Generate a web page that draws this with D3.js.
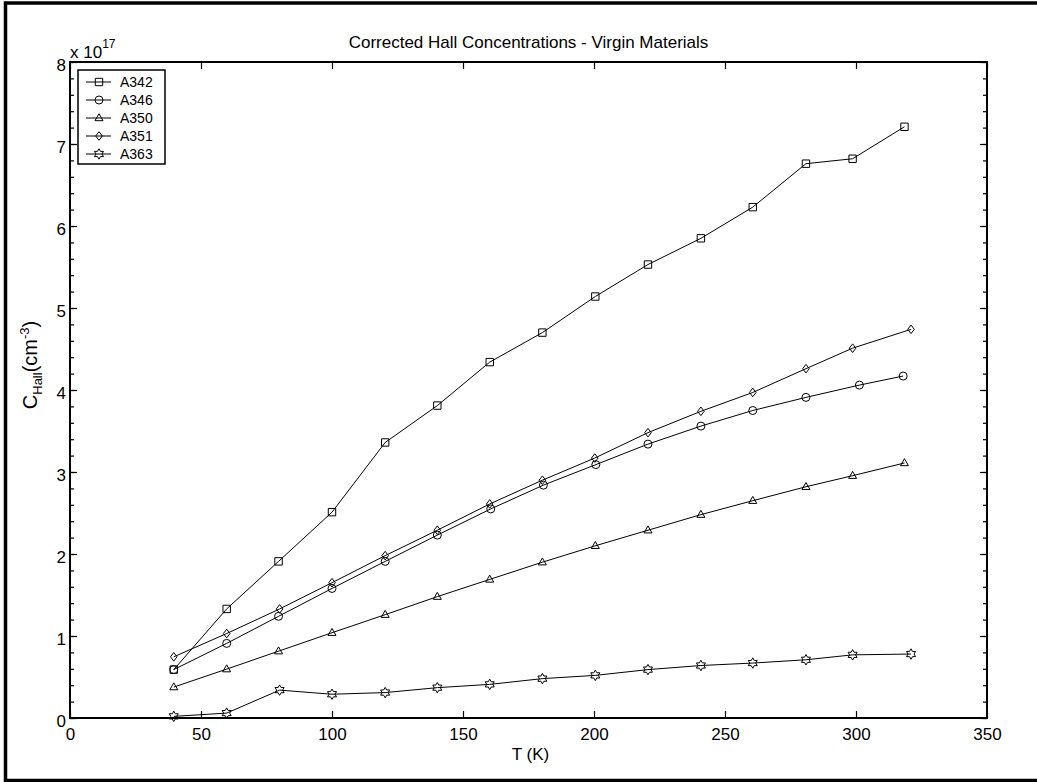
<!doctype html>
<html>
<head>
<meta charset="utf-8">
<style>
  body { margin: 0; background: #fff; }
  svg text { font-family: Arial, "Liberation Sans", sans-serif; fill: #000; }
  .axis path, .axis line { stroke: #000; }
</style>
<script src="https://d3js.org/d3.v7.min.js"></script>
</head>
<body>
<svg width="1037" height="782"></svg>
<script>
// values are in units of 1e17 cm^-3
var seriesNames = ["A342", "A346", "A350", "A351", "A363"];

var tempA342 = [39.6, 59.8, 79.6, 100, 120.3, 140.2, 160.2, 180.3, 200.5, 220.6, 240.8, 260.6, 280.9, 298.7, 318.5];
var valA342  = [0.59, 1.33, 1.91, 2.51, 3.36, 3.81, 4.34, 4.70, 5.14, 5.53, 5.85, 6.23, 6.76, 6.82, 7.21];

var tempA346 = [39.6, 59.8, 79.6, 100, 120.3, 140.2, 160.6, 180.7, 200.7, 220.6, 240.8, 260.6, 280.9, 301.3, 318];
var valA346  = [0.59, 0.91, 1.24, 1.58, 1.91, 2.23, 2.55, 2.84, 3.09, 3.34, 3.56, 3.75, 3.91, 4.06, 4.17];

var tempA350 = [39.6, 59.8, 79.6, 100, 120.3, 140.2, 160.2, 180.3, 200.5, 220.6, 240.8, 260.6, 280.9, 298.7, 318.5];
var valA350  = [0.377, 0.596, 0.815, 1.04, 1.26, 1.48, 1.69, 1.90, 2.10, 2.29, 2.48, 2.65, 2.82, 2.955, 3.11];

var tempA351 = [39.6, 59.8, 80, 100, 120.3, 140.2, 160.2, 180.3, 200.3, 220.6, 240.8, 260.6, 280.9, 298.7, 321];
var valA351  = [0.746, 1.03, 1.33, 1.65, 1.98, 2.29, 2.61, 2.90, 3.17, 3.48, 3.74, 3.97, 4.26, 4.51, 4.74];

var tempA363 = [39.6, 59.8, 80, 100, 120.3, 140.2, 160.2, 180.3, 200.5, 220.6, 240.8, 260.6, 280.9, 298.7, 321];
var valA363  = [0.02, 0.06, 0.34, 0.29, 0.31, 0.37, 0.41, 0.48, 0.52, 0.59, 0.64, 0.67, 0.71, 0.77, 0.78];

var xTicks = [0, 50, 100, 150, 200, 250, 300, 350];
var yTicks = [0, 1, 2, 3, 4, 5, 6, 7, 8];
var yMinorTicks = d3.range(0, 8.01, 0.2);

var series = [
  {name: seriesNames[0], t: tempA342, v: valA342, marker: "square"},
  {name: seriesNames[1], t: tempA346, v: valA346, marker: "circle"},
  {name: seriesNames[2], t: tempA350, v: valA350, marker: "triangle"},
  {name: seriesNames[3], t: tempA351, v: valA351, marker: "diamond"},
  {name: seriesNames[4], t: tempA363, v: valA363, marker: "hexagram"}
];

var markerPath = {
  square: "M-3.7,-3.7h7.4v7.4h-7.4Z",
  circle: "M4,0A4,4 0 1,1 -4,0A4,4 0 1,1 4,0Z",
  triangle: "M0,-4.3L4,2.7L-4,2.7Z",
  diamond: "M0,-4.3L3.3,0L0,4.3L-3.3,0Z",
  hexagram: (function() {
    var r = 5.2, p = [];
    for (var i = 0; i < 12; i++) {
      var a = (i * 30 - 90) * Math.PI / 180, rr = i % 2 == 0 ? r : r / Math.sqrt(3);
      p.push([rr * Math.cos(a), rr * Math.sin(a)]);
    }
    return "M" + p.map(function(d) { return d[0].toFixed(2) + "," + d[1].toFixed(2); }).join("L") + "Z";
  })()
};

var svg = d3.select("svg");
var plotL = 70, plotR = 987, plotT = 62, plotB = 718;

var x = d3.scaleLinear().domain([0, 350]).range([plotL, plotR]);
var y = d3.scaleLinear().domain([0, 8]).range([plotB, plotT]);

// outer figure frame
svg.append("rect")
  .attr("x", 5.5).attr("y", 3).attr("width", 1100).attr("height", 777.5)
  .attr("fill", "none").attr("stroke", "#000").attr("stroke-width", 3.5);

// axes
var gx = svg.append("g").attr("class", "axis")
  .attr("transform", "translate(0," + plotB + ")")
  .call(d3.axisBottom(x).tickValues(xTicks).tickSizeInner(-7).tickSizeOuter(0).tickPadding(10));
gx.selectAll("text").style("font-size", "17px");

svg.append("g").attr("class", "axis")
  .attr("transform", "translate(0," + plotT + ")")
  .call(d3.axisTop(x).tickValues(xTicks).tickSizeInner(-7).tickSizeOuter(0).tickFormat(""));

svg.append("g").attr("class", "axis")
  .attr("transform", "translate(" + plotL + ",0)")
  .call(d3.axisLeft(y).tickValues(yMinorTicks).tickSizeInner(-4).tickSizeOuter(0).tickFormat(""));
var gy = svg.append("g").attr("class", "axis")
  .attr("transform", "translate(" + plotL + ",0)")
  .call(d3.axisLeft(y).tickValues(yTicks).tickSizeInner(-7).tickSizeOuter(0).tickPadding(4));
gy.selectAll("text").style("font-size", "17px").attr("dy", "0.52em");

svg.append("g").attr("class", "axis")
  .attr("transform", "translate(" + plotR + ",0)")
  .call(d3.axisRight(y).tickValues(yMinorTicks).tickSizeInner(-4).tickSizeOuter(0).tickFormat(""));
svg.append("g").attr("class", "axis")
  .attr("transform", "translate(" + plotR + ",0)")
  .call(d3.axisRight(y).tickValues(yTicks).tickSizeInner(-7).tickSizeOuter(0).tickFormat(""));

svg.selectAll(".axis .domain").remove();
svg.selectAll(".axis line").attr("stroke-width", 1.2);

// plot box
svg.append("rect")
  .attr("x", plotL).attr("y", plotT).attr("width", plotR - plotL).attr("height", plotB - plotT)
  .attr("fill", "none").attr("stroke", "#000").attr("stroke-width", 2);

// series
var line = d3.line().x(function(d) { return x(d[0]); }).y(function(d) { return y(d[1]); });

series.forEach(function(s) {
  var pts = s.t.map(function(t, i) { return [t, s.v[i]]; });
  svg.append("path").attr("d", line(pts))
    .attr("fill", "none").attr("stroke", "#000").attr("stroke-width", 1);
  svg.append("g").selectAll("path").data(pts).enter().append("path")
    .attr("d", markerPath[s.marker])
    .attr("transform", function(d) { return "translate(" + x(d[0]) + "," + y(d[1]) + ")"; })
    .attr("fill", "none").attr("stroke", "#000").attr("stroke-width", 1);
});

// texts
svg.append("text").attr("x", (plotL + plotR) / 2).attr("y", 48)
  .attr("text-anchor", "middle").style("font-size", "17px")
  .text("Corrected Hall Concentrations - Virgin Materials");

svg.append("text").attr("x", (plotL + plotR) / 2 + 2).attr("y", 760)
  .attr("text-anchor", "middle").style("font-size", "17px").text("T (K)");

var ex = svg.append("text").attr("x", 70).attr("y", 58).style("font-size", "17px");
ex.append("tspan").text("x 10");
ex.append("tspan").attr("dy", -10).style("font-size", "12px").text("17");

var yl = svg.append("text")
  .attr("transform", "translate(37,365) rotate(-90)")
  .attr("text-anchor", "middle").style("font-size", "20px");
yl.append("tspan").text("C");
yl.append("tspan").attr("dy", 5).style("font-size", "13px").text("Hall");
yl.append("tspan").attr("dy", -5).text("(cm");
yl.append("tspan").attr("dy", -8).style("font-size", "13px").text("-3");
yl.append("tspan").attr("dy", 8).text(")");

// legend
var lg = svg.append("g");
lg.append("rect").attr("x", 78).attr("y", 70).attr("width", 87).attr("height", 94)
  .attr("fill", "#fff").attr("stroke", "#000").attr("stroke-width", 1.5);
series.forEach(function(s, i) {
  var ly = 82 + i * 18;
  lg.append("line").attr("x1", 86).attr("x2", 111).attr("y1", ly).attr("y2", ly)
    .attr("stroke", "#000").attr("stroke-width", 1);
  lg.append("path").attr("d", markerPath[s.marker])
    .attr("transform", "translate(99," + ly + ")")
    .attr("fill", "none").attr("stroke", "#000").attr("stroke-width", 1);
  lg.append("text").attr("x", 120).attr("y", ly + 5).style("font-size", "14px").text(s.name);
});
</script>
</body>
</html>
